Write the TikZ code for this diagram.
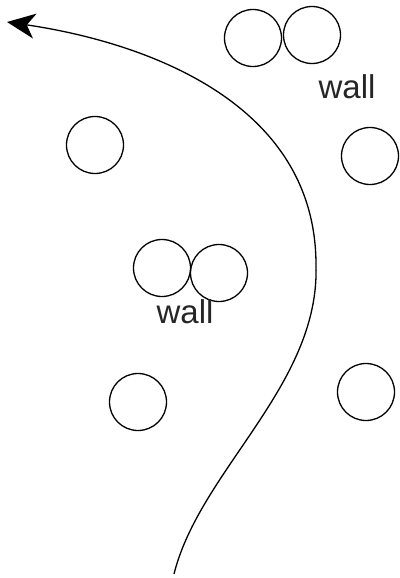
\documentclass[tikz,border=0pt]{standalone}
\usepackage{fontspec}
\setmainfont{Liberation Sans}
\usetikzlibrary{arrows.meta}
\tikzset{
  stone/.style={draw,circle,minimum size=57pt,inner sep=0pt,line width=1.3pt},
  walllabel/.style={anchor=base,font=\fontsize{33}{36}\selectfont,text=black!85},
}
\begin{document}
\begin{tikzpicture}[x=1pt,y=-1pt,line width=1.3pt]
\useasboundingbox (0,0) rectangle (399,578);
% upper wall
\node[stone] (w1a) at (253,38) {};
\node[stone] (w1b) at (312,35) {};
\node[walllabel] (w1) at (347,99) {wall};
% lower wall
\node[stone] (w2a) at (162,268) {};
\node[stone] (w2b) at (219,273) {};
\node[walllabel] (w2) at (185,323) {wall};
% single posts
\node[stone] (p1) at (95,145) {};
\node[stone] (p2) at (370,156) {};
\node[stone] (p3) at (138,402) {};
\node[stone] (p4) at (366,392) {};
% path
\coordinate (start) at (174,574);
\coordinate (turn) at (316,265);
\coordinate (goal) at (7,22);
\draw[-{Stealth[length=28pt,width=25pt,inset=8pt]}] (start) .. controls (200,470) and (320,385) .. (turn)
  .. controls (316,95) and (130,40) .. (goal);
\end{tikzpicture}
\end{document}
